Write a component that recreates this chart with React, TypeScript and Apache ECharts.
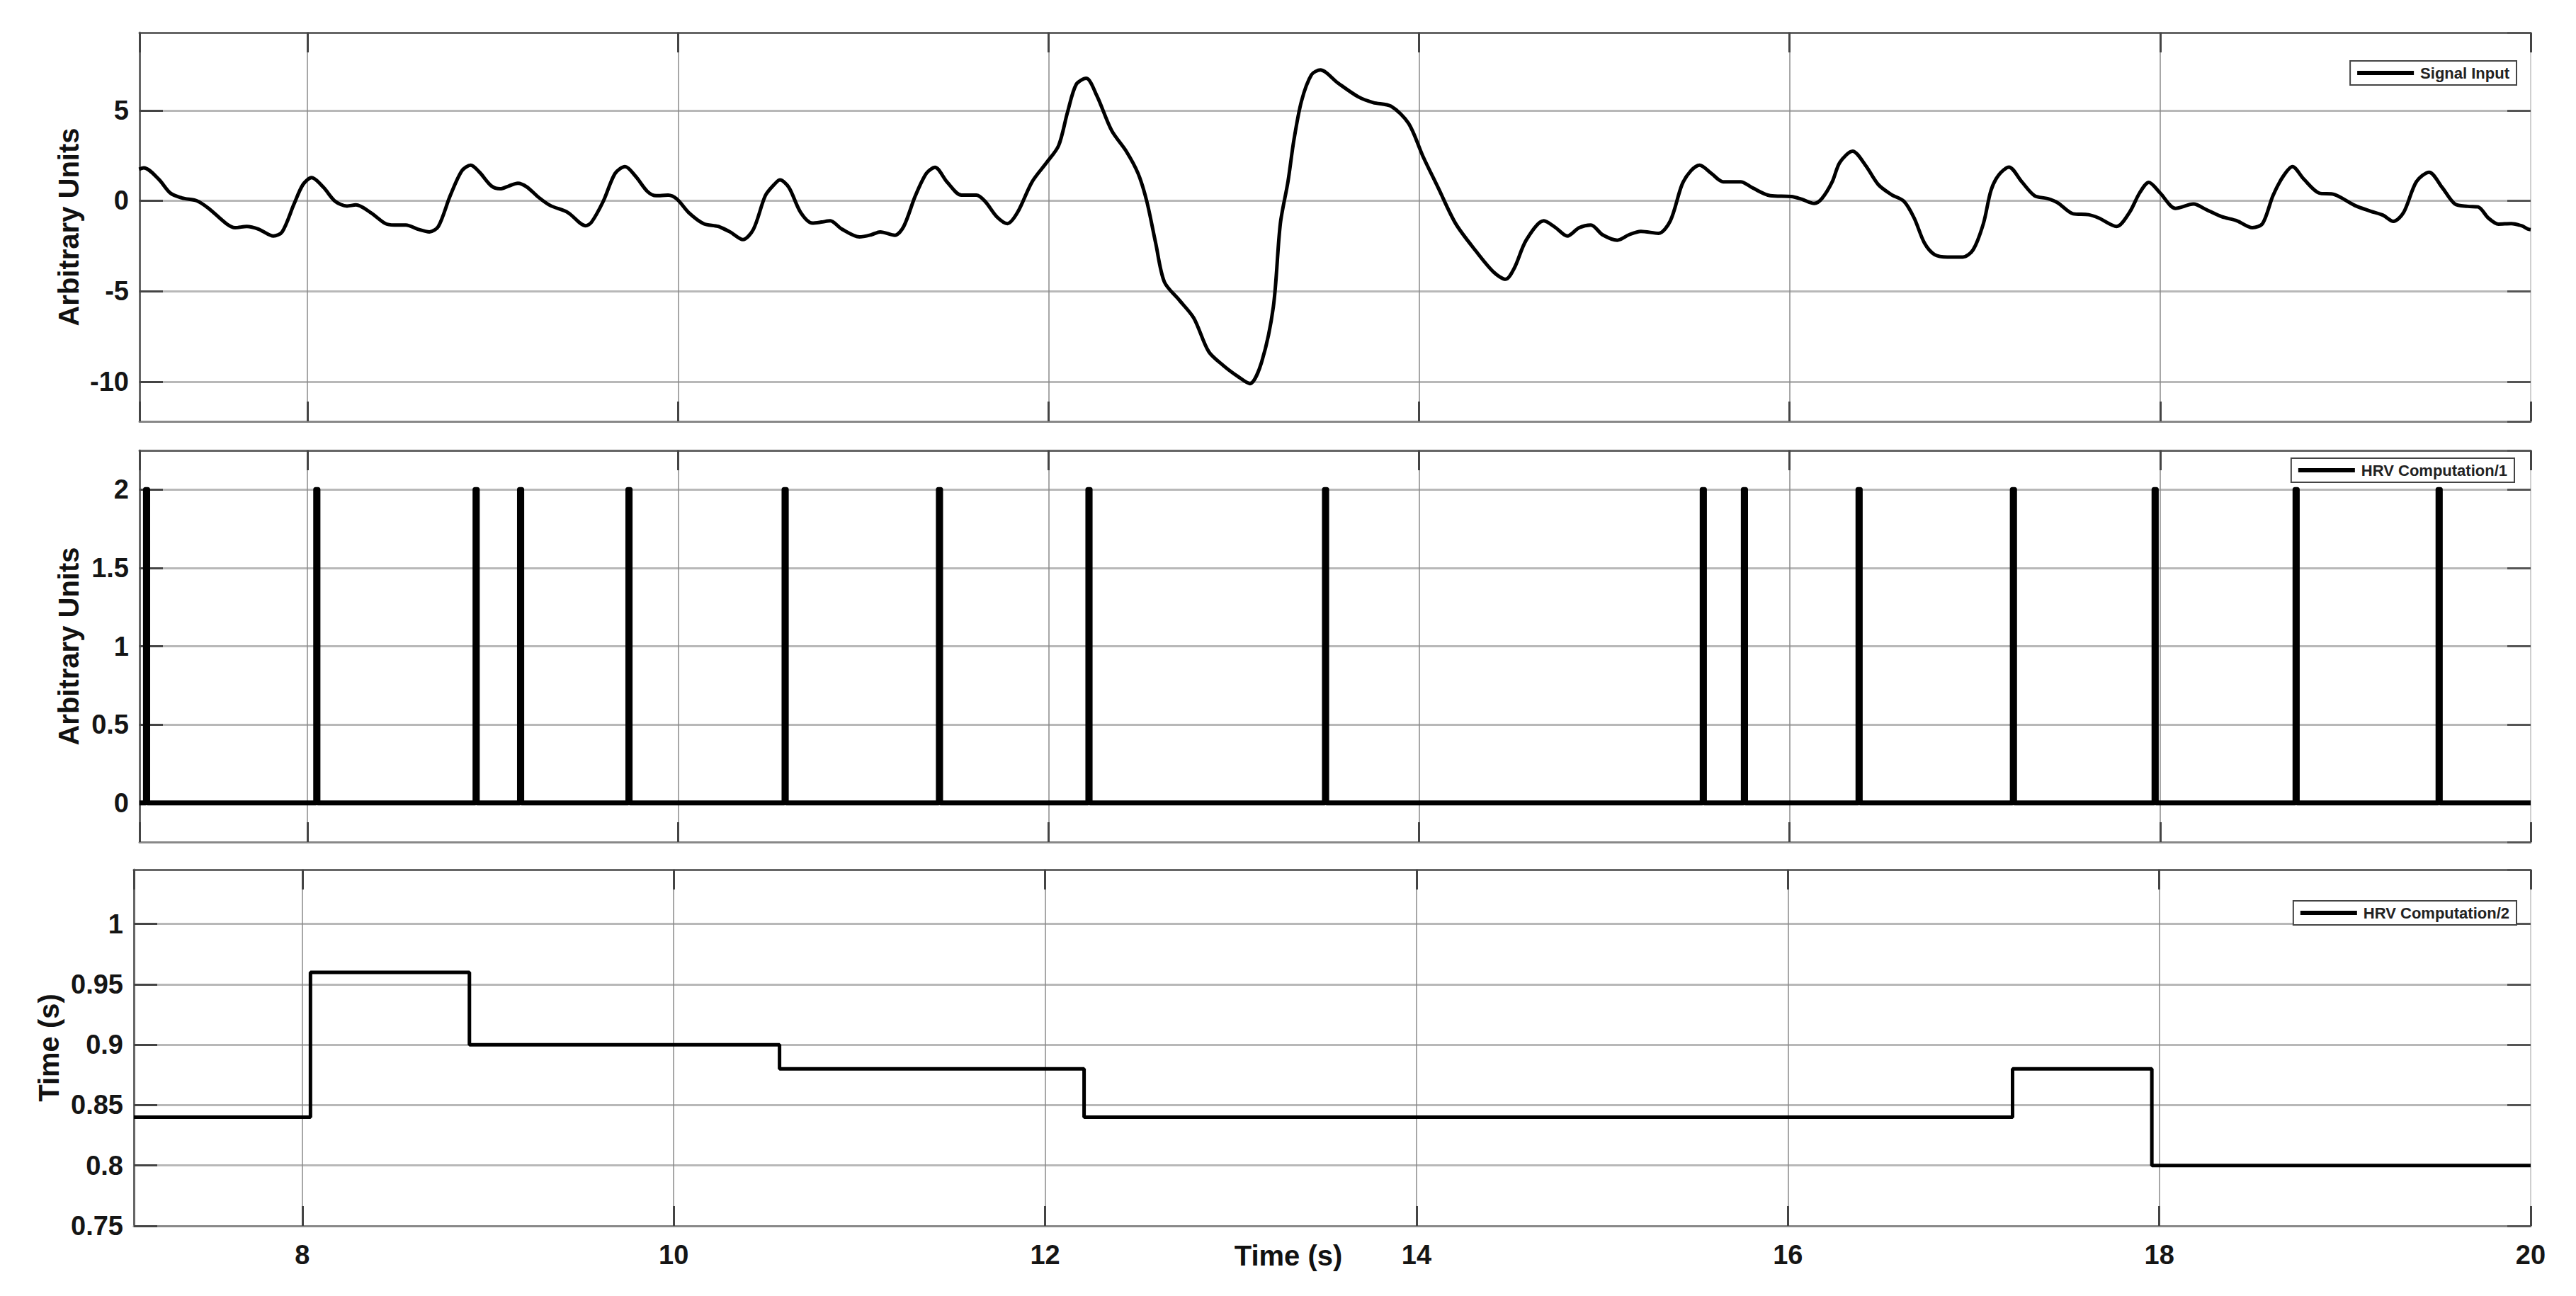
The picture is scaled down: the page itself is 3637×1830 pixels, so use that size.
import React, { useEffect, useRef } from "react";
import * as echarts from "echarts";

// ---------- data ----------
const signalTime = [
  7.091, 7.116, 7.196, 7.259, 7.323, 7.402, 7.466, 7.561, 7.609, 7.672, 7.736, 7.816, 7.863, 7.927, 7.975,
  8.022, 8.086, 8.149, 8.213, 8.261, 8.34, 8.42, 8.467, 8.531, 8.595, 8.658, 8.706, 8.77, 8.833, 8.881,
  8.928, 8.992, 9.04, 9.087, 9.135, 9.183, 9.246, 9.31, 9.405, 9.501, 9.533, 9.596, 9.66, 9.714, 9.771,
  9.835, 9.882, 9.946, 9.994, 10.057, 10.137, 10.216, 10.28, 10.35, 10.407, 10.471, 10.518, 10.55, 10.598,
  10.662, 10.725, 10.773, 10.821, 10.884, 10.979, 11.043, 11.091, 11.17, 11.218, 11.281, 11.34, 11.387,
  11.451, 11.53, 11.61, 11.657, 11.72, 11.778, 11.832, 11.911, 11.99, 12.054, 12.102, 12.149, 12.203,
  12.26, 12.34, 12.419, 12.483, 12.53, 12.578, 12.625, 12.705, 12.784, 12.864, 12.943, 13.022, 13.086,
  13.149, 13.213, 13.251, 13.292, 13.324, 13.365, 13.419, 13.467, 13.562, 13.673, 13.752, 13.848, 13.943,
  14.022, 14.102, 14.197, 14.308, 14.403, 14.467, 14.514, 14.578, 14.673, 14.737, 14.8, 14.864, 14.927,
  14.99, 15.07, 15.133, 15.197, 15.292, 15.356, 15.419, 15.467, 15.514, 15.578, 15.641, 15.737, 15.8,
  15.895, 16.008, 16.064, 16.133, 16.174, 16.23, 16.271, 16.34, 16.409, 16.479, 16.548, 16.617, 16.672,
  16.728, 16.783, 16.852, 16.935, 16.99, 17.046, 17.087, 17.129, 17.184, 17.253, 17.322, 17.392, 17.447,
  17.53, 17.613, 17.668, 17.765, 17.834, 17.889, 17.939, 18.0, 18.083, 18.18, 18.249, 18.332, 18.415,
  18.498, 18.553, 18.609, 18.664, 18.714, 18.775, 18.857, 18.94, 19.051, 19.134, 19.203, 19.259, 19.314,
  19.383, 19.452, 19.522, 19.591, 19.66, 19.716, 19.771, 19.826, 19.895, 19.95, 19.986, 20.0,
];
const signalValue = [
  1.74, 1.82, 1.2, 0.43, 0.15, 0, -0.42, -1.26, -1.49, -1.42, -1.57, -1.95, -1.72, -0.18, 0.89,
  1.28, 0.74, -0.03, -0.29, -0.23, -0.65, -1.26, -1.34, -1.34, -1.57, -1.72, -1.42, 0.28, 1.66, 1.97,
  1.58, 0.82, 0.66, 0.82, 0.97, 0.77, 0.2, -0.26, -0.65, -1.38, -1.18, -0.03, 1.51, 1.89, 1.35,
  0.51, 0.28, 0.31, 0.09, -0.65, -1.26, -1.42, -1.72, -2.15, -1.57, 0.28, 0.89, 1.15, 0.74,
  -0.65, -1.23, -1.18, -1.11, -1.57, -2.0, -1.88, -1.72, -1.91, -1.42, 0.28, 1.51, 1.85,
  1.05, 0.31, 0.31, -0.03, -0.88, -1.26, -0.65, 1.05, 2.12, 3.05, 4.89, 6.43, 6.77,
  5.82, 3.89, 2.74, 1.51, -0.03, -2.34, -4.49, -5.49, -6.49, -8.34, -9.11, -9.72, -10.11,
  -8.95, -5.88, -1.26, 1.05, 3.35, 5.51, 6.97, 7.23, 6.51, 5.74, 5.43, 5.23, 4.28,
  2.43, 0.74, -1.26, -2.8, -3.95, -4.34, -3.72, -2.18, -1.11, -1.49, -1.95, -1.49, -1.34,
  -1.88, -2.18, -1.88, -1.69, -1.8, -1.11, 0.89, 1.66, 1.97, 1.51, 1.05, 1.05, 0.71,
  0.28, 0.23, 0.09, -0.15, 0.12, 1.05, 2.12, 2.74, 1.97, 0.89, 0.35, -0.03, -0.95,
  -2.34, -2.98, -3.11, -3.11, -2.72, -1.26, 0.58, 1.43, 1.86, 1.05, 0.28, 0.12, -0.11,
  -0.72, -0.77, -0.95, -1.42, -0.65, 0.43, 1.02, 0.43, -0.42, -0.18, -0.49, -0.88, -1.11,
  -1.49, -1.26, 0.28, 1.35, 1.89, 1.2, 0.43, 0.35, -0.26, -0.57, -0.8, -1.14, -0.65,
  1.05, 1.58, 0.74, -0.18, -0.31, -0.34, -0.95, -1.29, -1.26, -1.38, -1.57, -1.6,
];

// detected beats (HRV Computation/1)
const peakTimes = [
  7.125, 8.044, 8.904, 9.144, 9.729, 10.572, 11.405, 12.212, 13.489, 15.528, 15.75, 16.369, 17.202,
  17.967, 18.728, 19.5,
];
const peakHeight = 2;

// RR interval output (HRV Computation/2): value held from each change time
const rrChangeTimes = [7.093, 8.044, 8.9, 10.57, 12.21, 17.21, 17.96, 20];
const rrValues = [0.84, 0.96, 0.9, 0.88, 0.84, 0.88, 0.8, 0.8];

const seriesNames = ["Signal Input", "HRV Computation/1", "HRV Computation/2"];
const yAxisNames = ["Arbitrary Units", "Arbitrary Units", "Time (s)"];
const xAxisName = "Time (s)";

// ---------- chart ----------
const FONT = "'Liberation Sans', Arial, Helvetica, sans-serif";
const X_MIN = 7.093;
const X_MAX = 20;
const PULSE_W = 0.012;

const grids = [
  { left: 197, right: 64, top: 46, height: 549 },
  { left: 197, right: 64, top: 636, height: 553 },
  { left: 189, right: 64, top: 1228, height: 503 },
];

const yRanges = [
  { min: -12.2, max: 9.3, step: 5, showMin: false },
  { min: -0.25, max: 2.25, step: 0.5, showMin: false },
  { min: 0.75, max: 1.045, step: 0.05, showMin: true },
];

const nameGaps = [80, 80, 100];

const legendPos = [
  { right: 84, top: 86 },
  { right: 87, top: 647 },
  { right: 84, top: 1272 },
];

export default function App() {
  const ref = useRef<HTMLDivElement>(null);

  useEffect(() => {
    if (!ref.current) return;
    const chart = echarts.init(ref.current, null, { renderer: "svg" });

    const spikeData: number[][] = [[X_MIN, 0]];
    peakTimes.forEach((t) => {
      spikeData.push([t, 0], [t, peakHeight], [t + PULSE_W, peakHeight], [t + PULSE_W, 0]);
    });
    spikeData.push([X_MAX, 0]);

    const xBase = (gi: number, pos: "bottom" | "top") => ({
      type: "value",
      gridIndex: gi,
      position: pos,
      min: X_MIN,
      max: X_MAX,
      splitNumber: 6,
      minInterval: 2,
      maxInterval: 2,
      axisLine: { show: true, onZero: false, lineStyle: { color: pos === "top" ? "#666" : "#888", width: 3 } },
      axisTick: { show: true, inside: true, length: 28, lineStyle: { color: "#444", width: 3 } },
      axisLabel: { show: false },
      splitLine: { show: false },
    });

    const xAxes: any[] = [];
    for (let gi = 0; gi < 3; gi++) {
      const ax: any = xBase(gi, "bottom");
      ax.splitLine = { show: true, lineStyle: { color: "#8a8a8a", width: 1.5 } };
      if (gi === 2) {
        ax.axisLabel = {
          show: true,
          fontSize: 38,
          fontWeight: "bold",
          color: "#151515",
          fontFamily: FONT,
          margin: 22,
          showMinLabel: false,
          showMaxLabel: true,
        };
        ax.name = xAxisName;
        ax.nameLocation = "middle";
        ax.nameGap = 22;
        ax.nameMoveOverlap = false;
        ax.nameTextStyle = {
          fontSize: 40,
          fontWeight: "bold",
          color: "#111",
          fontFamily: FONT,
          verticalAlign: "top",
          padding: [0, 124, 0, 0],
        };
      }
      xAxes.push(ax);
    }
    for (let gi = 0; gi < 3; gi++) xAxes.push(xBase(gi, "top"));

    const yAxes: any[] = [];
    for (let gi = 0; gi < 3; gi++) {
      const r = yRanges[gi];
      yAxes.push({
        type: "value",
        gridIndex: gi,
        position: "left",
        min: r.min,
        max: r.max,
        splitNumber: 5,
        minInterval: r.step,
        maxInterval: r.step,
        name: yAxisNames[gi],
        nameLocation: "middle",
        nameGap: nameGaps[gi],
        nameMoveOverlap: false,
        nameTextStyle: { fontSize: 40, fontWeight: "bold", color: "#111", fontFamily: FONT },
        axisLine: { show: true, onZero: false, lineStyle: { color: "#666", width: 3 } },
        axisTick: { show: true, inside: true, length: 33, lineStyle: { color: "#444", width: 3 } },
        axisLabel: {
          show: true,
          fontSize: 38,
          fontWeight: "bold",
          color: "#151515",
          fontFamily: FONT,
          margin: 15,
          showMinLabel: r.showMin,
          showMaxLabel: false,
        },
        splitLine: { show: true, lineStyle: { color: "#b8b8b8", width: 3 } },
      });
    }
    for (let gi = 0; gi < 3; gi++) {
      const r = yRanges[gi];
      yAxes.push({
        type: "value",
        gridIndex: gi,
        position: "right",
        min: r.min,
        max: r.max,
        splitNumber: 5,
        minInterval: r.step,
        maxInterval: r.step,
        axisLine: { show: true, onZero: false, lineStyle: { color: "#cfcfcf", width: 2 } },
        axisTick: { show: true, inside: true, length: 33, lineStyle: { color: "#555", width: 3 } },
        axisLabel: { show: false },
        splitLine: { show: false },
      });
    }

    const legends = seriesNames.map((n, i) => ({
      data: [n],
      right: legendPos[i].right,
      top: legendPos[i].top,
      orient: "horizontal",
      icon: "rect",
      itemWidth: 80,
      itemHeight: 6,
      padding: [6, 10, 6, 10],
      borderColor: "#444",
      borderWidth: 2,
      backgroundColor: "#fff",
      selectedMode: false,
      itemStyle: { color: "#000" },
      textStyle: {
        fontSize: 22,
        fontWeight: "bold",
        color: "#222",
        fontFamily: FONT,
        padding: [0, 0, 0, 4],
      },
    }));

    const option: any = {
      animation: false,
      backgroundColor: "#fff",
      grid: grids.map((g) => ({ ...g, containLabel: false })),
      xAxis: xAxes,
      yAxis: yAxes,
      legend: legends,
      series: [
        {
          name: seriesNames[0],
          type: "line",
          xAxisIndex: 0,
          yAxisIndex: 0,
          data: signalTime.map((t, i) => [t, signalValue[i]]),
          showSymbol: false,
          smooth: 0.3,
          color: "#000",
          lineStyle: { color: "#000", width: 5 },
          clip: true,
        },
        {
          name: seriesNames[1],
          type: "line",
          xAxisIndex: 1,
          yAxisIndex: 1,
          data: spikeData,
          showSymbol: false,
          color: "#000",
          lineStyle: { color: "#000", width: 7, join: "round" },
          clip: true,
        },
        {
          name: seriesNames[2],
          type: "line",
          xAxisIndex: 2,
          yAxisIndex: 2,
          step: "end",
          data: rrChangeTimes.map((t, i) => [t, rrValues[i]]),
          showSymbol: false,
          color: "#000",
          lineStyle: { color: "#000", width: 5 },
          clip: true,
        },
      ],
    };

    chart.setOption(option);
    return () => chart.dispose();
  }, []);

  return (
    <div
      ref={ref}
      style={{ position: "absolute", left: 0, top: 0, width: 3637, height: 1830, background: "#fff" }}
    />
  );
}
